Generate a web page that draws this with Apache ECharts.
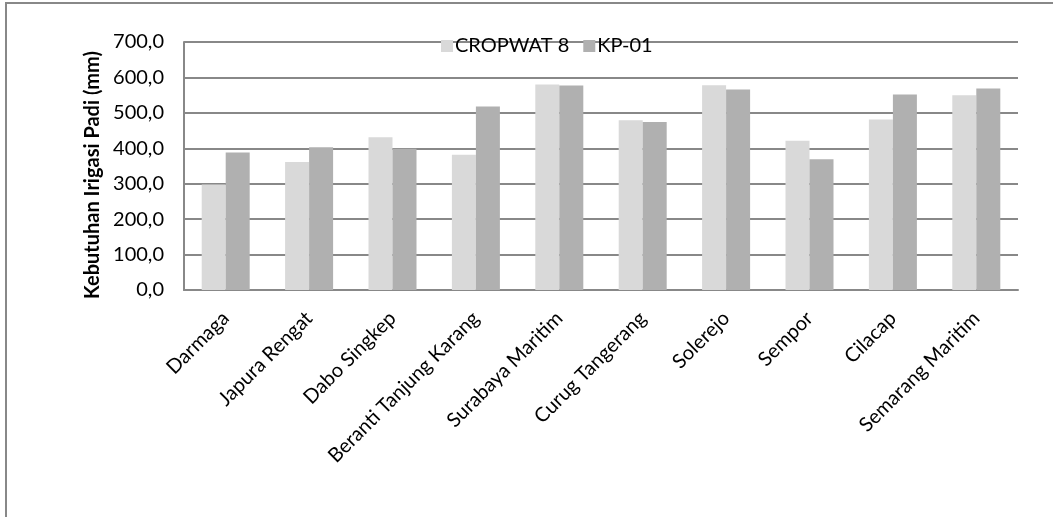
<!DOCTYPE html>
<html>
<head>
<meta charset="utf-8">
<script src="https://cdn.jsdelivr.net/npm/echarts@6/dist/echarts.min.js"></script>
<style>
  html, body { margin: 0; padding: 0; background: #fff; }
  #main { width: 1053px; height: 517px; }
</style>
</head>
<body>
<div id="main"></div>
<script>
// stasiun
const stations = [
  "Darmaga", "Japura Rengat", "Dabo Singkep", "Beranti Tanjung Karang",
  "Surabaya Maritim", "Curug Tangerang", "Solerejo", "Sempor", "Cilacap",
  "Semarang Maritim"
];
// kebutuhan irigasi (mm)
const cropwat = [298, 361, 431, 382, 580, 479, 578, 421, 481, 550];
const kp01 = [388, 403, 399, 518, 577, 474, 566, 369, 552, 569];

const yTicks = { min: 0, max: 700, interval: 100 };
const font = "Lato";

const chart = echarts.init(document.getElementById("main"));

const option = {
  animation: false,
  textStyle: { fontFamily: font },
  // bingkai luar
  graphic: [
    {
      type: "rect",
      shape: { x: 6, y: 3, width: 1200, height: 700 },
      style: { fill: "none", stroke: "#888", lineWidth: 2 },
      silent: true
    }
  ],
  legend: {
    left: 436,
    top: 31,
    itemWidth: 12,
    itemHeight: 12,
    itemGap: 14,
    icon: "rect",
    textStyle: { fontFamily: font, fontSize: 20, color: "#000", padding: [0, 0, 0, -3] },
    data: ["CROPWAT 8", "KP-01"]
  },
  grid: {
    left: 184,
    right: 35,
    top: 42,
    bottom: 227
  },
  xAxis: {
    type: "category",
    data: stations,
    axisLine: { lineStyle: { color: "#888", width: 2 } },
    axisTick: { show: false },
    axisLabel: {
      rotate: 45,
      margin: 25,
      interval: 0,
      fontFamily: font,
      fontSize: 20,
      color: "#000"
    }
  },
  yAxis: {
    type: "value",
    min: yTicks.min,
    max: yTicks.max,
    interval: yTicks.interval,
    name: "Kebutuhan Irigasi Padi (mm)",
    nameLocation: "middle",
    nameRotate: 90,
    nameGap: 80,
    nameTextStyle: {
      fontFamily: font,
      fontSize: 20,
      fontWeight: "bold",
      color: "#000",
      padding: [0, 18, 0, 0]
    },
    axisLine: { show: true, lineStyle: { color: "#888", width: 2 } },
    axisTick: { show: false },
    splitLine: { lineStyle: { color: "#888", width: 2 } },
    axisLabel: {
      margin: 20,
      fontFamily: font,
      fontSize: 20,
      color: "#000",
      formatter: (v) => v.toFixed(1).replace(".", ",")
    }
  },
  series: [
    {
      name: "CROPWAT 8",
      type: "bar",
      data: cropwat,
      barWidth: 24,
      barGap: "0%",
      itemStyle: { color: "#d9d9d9" }
    },
    {
      name: "KP-01",
      type: "bar",
      data: kp01,
      barWidth: 24,
      barGap: "0%",
      itemStyle: { color: "#b0b0b0" }
    }
  ]
};

chart.setOption(option);
</script>
</body>
</html>
